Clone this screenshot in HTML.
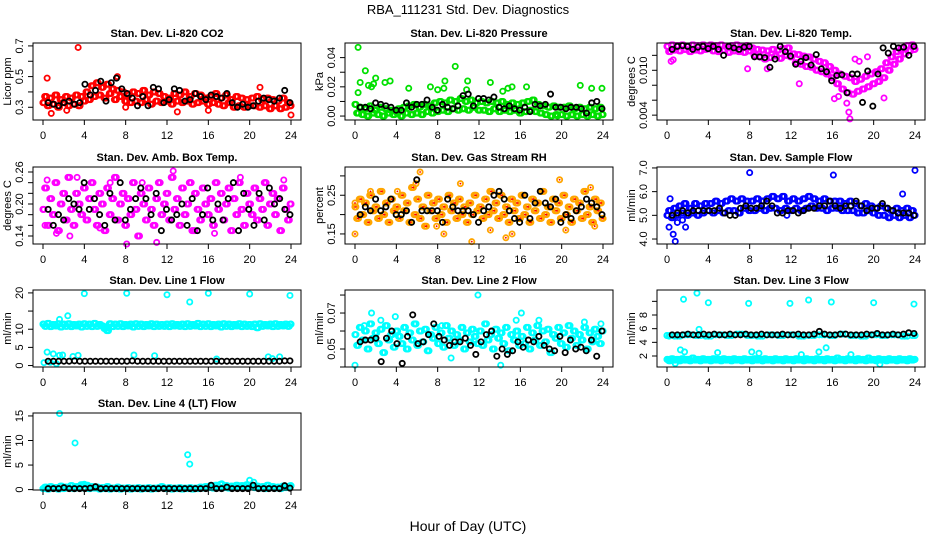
<!DOCTYPE html>
<html><head><meta charset="utf-8"><style>
html,body{margin:0;padding:0;background:#fff;}
svg{display:block;font-family:"Liberation Sans",Arial,sans-serif;}
</style></head><body>
<svg id="chart" width="936" height="540" viewBox="0 0 936 540" xmlns="http://www.w3.org/2000/svg">
<text x="468" y="14" text-anchor="middle" font-size="13">RBA_111231  Std. Dev. Diagnostics</text>
<text x="468" y="531" text-anchor="middle" font-size="14">Hour of Day (UTC)</text>
</svg>
<script>
const xTicks=[0,4,8,12,16,20,24];
const co2Main=[0.33,0.37,0.31,0.36,0.32,0.38,0.30,0.35,0.33,0.37,0.31,0.36,0.32,0.38,0.31,0.37,0.34,0.40,0.35,0.44,0.37,0.46,0.38,0.43,0.36,0.45,0.39,0.42,0.35,0.41,0.37,0.40,0.34,0.38,0.33,0.40,0.34,0.39,0.33,0.41,0.35,0.38,0.32,0.40,0.34,0.39,0.33,0.37,0.34,0.36,0.32,0.39,0.34,0.38,0.33,0.40,0.34,0.37,0.32,0.39,0.33,0.38,0.34,0.36,0.32,0.37,0.33,0.39,0.32,0.36,0.31,0.38,0.33,0.35,0.30,0.37,0.31,0.36,0.30,0.35,0.31,0.36,0.31,0.37,0.30,0.35,0.31,0.36,0.29,0.35,0.31,0.34,0.29,0.36,0.30,0.33,0.31];
const co2Out=[[0.4,0.49],[0.8,0.26],[3.4,0.69],[7.2,0.5],[13,0.27],[16,0.28],[21,0.43],[24,0.25],[8,0.3],[2.3,0.28]];
const co2Black=[0.33,0.32,0.31,0.33,0.34,0.32,0.33,0.45,0.38,0.41,0.47,0.34,0.46,0.49,0.42,0.39,0.36,0.31,0.37,0.31,0.43,0.42,0.33,0.35,0.42,0.41,0.34,0.35,0.39,0.37,0.35,0.38,0.37,0.36,0.39,0.33,0.30,0.32,0.30,0.31,0.34,0.36,0.35,0.34,0.36,0.41,0.33];
const presMain=[0.008,0.002,0.006,0.001,0.005,0.000,0.007,0.002,0.004,0.001,0.006,0.000,0.005,0.002,0.004,0.001,0.003,0.005,0.000,0.006,0.002,0.007,0.001,0.008,0.002,0.006,0.001,0.008,0.003,0.007,0.002,0.009,0.003,0.010,0.004,0.009,0.003,0.011,0.005,0.010,0.004,0.012,0.005,0.010,0.004,0.011,0.006,0.009,0.004,0.010,0.004,0.009,0.003,0.010,0.005,0.009,0.003,0.010,0.004,0.008,0.003,0.009,0.004,0.008,0.002,0.009,0.003,0.010,0.004,0.011,0.003,0.008,0.002,0.007,0.001,0.006,0.000,0.007,0.001,0.006,0.001,0.006,0.000,0.007,0.001,0.005,0.000,0.006,0.001,0.005,0.000,0.006,0.001,0.005,0.000,0.006,0.001];
const presOut=[[0.3,0.047],[0.3,0.016],[0.5,0.023],[1,0.031],[1.3,0.021],[1.6,0.02],[1.8,0.022],[2,0.026],[2.9,0.023],[3.4,0.024],[5.2,0.019],[7.3,0.02],[8,0.018],[8.6,0.019],[8.7,0.024],[9.7,0.034],[10.8,0.018],[10.9,0.024],[13.1,0.023],[14.3,0.017],[14.8,0.019],[15.2,0.02],[16.6,0.02],[21.8,0.021],[22.9,0.019],[23.9,0.019],[19.6,0.0]];
const presBlack=[0.006,0.006,0.005,0.009,0.008,0.007,0.006,0.004,0.004,0.009,0.006,0.008,0.008,0.011,0.006,0.004,0.008,0.006,0.005,0.007,0.014,0.015,0.007,0.012,0.012,0.011,0.013,0.006,0.005,0.007,0.005,0.004,0.006,0.003,0.008,0.007,0.008,0.015,0.006,0.006,0.005,0.006,0.006,0.005,0.002,0.009,0.010,0.005];
const tempMain=[0.0132,0.0125,0.0134,0.0127,0.0133,0.0126,0.0134,0.0128,0.0132,0.0125,0.0134,0.0127,0.0133,0.0126,0.0134,0.0128,0.0132,0.0134,0.0126,0.0133,0.0125,0.0134,0.0127,0.0132,0.0124,0.0133,0.0126,0.0134,0.0125,0.0132,0.0124,0.0133,0.0126,0.0130,0.0120,0.0128,0.0118,0.0127,0.0115,0.0126,0.0117,0.0128,0.0119,0.0127,0.0116,0.0129,0.0120,0.0130,0.0118,0.0122,0.0110,0.0121,0.0108,0.0119,0.0105,0.0118,0.0104,0.0115,0.0100,0.0112,0.0098,0.0110,0.0095,0.0105,0.0090,0.0100,0.0082,0.0095,0.0075,0.0092,0.0070,0.0090,0.0068,0.0085,0.0072,0.0088,0.0075,0.0092,0.0078,0.0095,0.0082,0.0098,0.0085,0.0102,0.0090,0.0110,0.0100,0.0118,0.0108,0.0125,0.0115,0.0130,0.0122,0.0133,0.0126,0.0134,0.0128];
const tempOut=[[0.4,0.0112],[0.6,0.0114],[7.8,0.0102],[9.7,0.0102],[12.8,0.0082],[16.2,0.0062],[17.4,0.0056],[17.7,0.0035],[17.6,0.0044],[18.2,0.0115],[19.4,0.0118],[18.6,0.0112],[21,0.0063],[16.6,0.0065]];
const tempBlack=[0.0128,0.0132,0.0133,0.0132,0.0128,0.0131,0.0132,0.0129,0.0132,0.0128,0.0120,0.0132,0.0130,0.0128,0.0131,0.0132,0.0118,0.0118,0.0117,0.0104,0.0115,0.0132,0.0125,0.0119,0.0108,0.0112,0.0117,0.0107,0.0121,0.0102,0.0098,0.0086,0.0093,0.0094,0.0070,0.0095,0.0095,0.0057,0.0099,0.0052,0.0095,0.0130,0.0123,0.0132,0.0130,0.0131,0.0120,0.0132];
const ambMain=[0.19,0.23,0.16,0.21,0.18,0.24,0.15,0.20,0.22,0.17,0.25,0.19,0.16,0.22,0.20,0.18,0.23,0.17,0.21,0.24,0.19,0.16,0.22,0.20,0.15,0.23,0.18,0.21,0.25,0.17,0.20,0.22,0.16,0.21,0.18,0.24,0.19,0.14,0.22,0.20,0.17,0.23,0.19,0.16,0.21,0.24,0.18,0.20,0.22,0.17,0.25,0.19,0.21,0.16,0.23,0.18,0.20,0.24,0.15,0.22,0.19,0.17,0.23,0.20,0.18,0.21,0.16,0.24,0.19,0.22,0.17,0.20,0.23,0.15,0.21,0.18,0.24,0.19,0.16,0.22,0.20,0.18,0.23,0.17,0.21,0.19,0.24,0.16,0.20,0.22,0.18,0.21,0.15,0.23,0.19,0.17,0.20];
const ambOut=[[0.4,0.245],[1.3,0.145],[3.3,0.25],[5.5,0.155],[6.5,0.24],[8.1,0.125],[11,0.128],[12.6,0.262],[14.7,0.15],[19.1,0.25],[23.3,0.245],[16.6,0.145],[0.2,0.16],[2.6,0.14],[9.6,0.24]];
const ambBlack=[0.19,0.16,0.18,0.17,0.21,0.20,0.19,0.24,0.19,0.21,0.18,0.16,0.22,0.17,0.24,0.17,0.19,0.21,0.23,0.21,0.18,0.22,0.15,0.19,0.17,0.18,0.20,0.16,0.21,0.15,0.18,0.23,0.17,0.20,0.17,0.21,0.24,0.15,0.22,0.19,0.16,0.22,0.17,0.23,0.20,0.21,0.19,0.18];
const rhMain=[0.22,0.19,0.24,0.20,0.23,0.18,0.25,0.21,0.22,0.19,0.26,0.20,0.23,0.18,0.24,0.21,0.22,0.19,0.25,0.21,0.23,0.18,0.27,0.20,0.24,0.19,0.22,0.17,0.25,0.21,0.23,0.19,0.24,0.20,0.22,0.18,0.25,0.21,0.23,0.19,0.24,0.20,0.22,0.18,0.23,0.20,0.25,0.21,0.22,0.19,0.24,0.20,0.26,0.21,0.23,0.19,0.25,0.20,0.22,0.18,0.24,0.21,0.23,0.19,0.25,0.20,0.22,0.18,0.24,0.21,0.23,0.19,0.26,0.20,0.22,0.18,0.24,0.21,0.23,0.19,0.25,0.20,0.22,0.18,0.24,0.21,0.23,0.19,0.26,0.20,0.22,0.18,0.24,0.21,0.23,0.19];
const rhOut=[[0,0.15],[0,0.23],[1.5,0.26],[4.1,0.26],[6.3,0.31],[5.9,0.28],[8.6,0.15],[10.2,0.28],[11.3,0.13],[13.1,0.16],[15.2,0.15],[14.6,0.14],[19.8,0.29],[20.4,0.16],[22.8,0.27],[23.2,0.17],[7.9,0.17]];
const rhBlack=[0.20,0.22,0.21,0.24,0.21,0.22,0.24,0.20,0.20,0.21,0.18,0.29,0.21,0.21,0.21,0.21,0.18,0.24,0.22,0.21,0.21,0.21,0.20,0.18,0.21,0.22,0.25,0.26,0.24,0.21,0.19,0.18,0.25,0.19,0.23,0.26,0.23,0.22,0.24,0.18,0.20,0.19,0.21,0.22,0.24,0.23,0.22,0.20];
const sfMain=[5.0,5.2,4.9,5.3,5.0,5.4,5.1,5.5,5.0,5.3,5.1,5.5,5.0,5.4,5.1,5.5,5.2,5.5,5.1,5.6,5.2,5.5,5.1,5.6,5.2,5.7,5.2,5.6,5.1,5.7,5.3,5.6,5.2,5.6,5.2,5.7,5.3,5.6,5.2,5.7,5.3,5.8,5.3,5.7,5.2,5.8,5.3,5.6,5.2,5.7,5.3,5.6,5.2,5.7,5.3,5.8,5.4,5.7,5.3,5.6,5.3,5.7,5.2,5.6,5.3,5.6,5.3,5.6,5.2,5.5,5.2,5.6,5.2,5.5,5.1,5.4,5.1,5.5,5.2,5.4,5.1,5.3,5.0,5.4,5.0,5.3,4.9,5.2,5.0,5.3,4.9,5.2,5.0,5.3,4.9,5.2,5.0];
const sfOut=[[0.2,4.5],[0.3,5.7],[0.6,4.2],[0.8,3.9],[1,4.7],[1.5,4.8],[1.8,4.5],[8,6.8],[11.6,5.0],[16.1,6.7],[22.8,5.9],[24,6.9]];
const sfBlack=[5.0,5.1,5.2,5.1,5.2,5.2,5.2,5.2,5.2,5.3,5.1,5.0,5.0,5.3,5.4,5.3,5.3,5.4,5.6,5.4,5.1,5.1,5.2,5.2,5.1,5.2,5.3,5.3,5.4,5.4,5.6,5.4,5.3,5.4,5.4,5.6,5.4,5.2,5.3,5.3,5.5,5.3,5.2,5.1,5.1,5.1,5.0];
const l1Main=[11.4,10.8,11.6,10.7,11.3,10.9,11.5,10.6,11.4,10.8,11.5,10.7,11.3,10.9,11.4,10.6,11.5,10.8,11.4,10.7,11.6,10.8,11.3,10.9,10.2,9.6,11.5,10.7,11.4,10.8,11.5,10.7,11.3,10.9,11.4,10.6,11.5,10.8,11.4,10.7,11.3,10.9,11.5,10.7,11.4,10.8,11.3,10.8,11.4,10.7,11.5,10.9,11.3,10.8,11.4,10.7,11.5,10.8,11.3,10.9,11.6,10.7,11.4,10.8,11.5,10.7,11.3,10.9,11.4,10.6,11.5,10.8,11.4,10.7,11.3,10.9,11.5,10.7,11.4,10.8,11.3,10.7,11.4,10.4,11.5,10.8,11.3,10.9,11.4,10.7,11.5,10.8,11.3,10.9,11.4,10.8,11.4];
const l1Out=[[0.1,0.8],[0.4,3.7],[1,3.2],[1.6,12.7],[1.6,2.8],[1.9,2.9],[2.4,13.7],[2.9,2.5],[3.4,2.8],[4,19.8],[8.1,19.9],[8.8,2.9],[10.8,2.7],[12,19.5],[14.2,17.5],[16,19.9],[20,19.7],[23.9,19.3],[21.8,2.4],[22.9,2.4],[16.8,1.8],[22.2,1.9],[1.3,0.5],[0.7,0.9]];
const l1Black=[1.2,1.2,1.2,1.2,1.2,1.3,1.2,1.2,1.2,1.2,1.2,1.2,1.2,1.2,1.2,1.2,1.3,1.2,1.2,1.2,1.2,1.2,1.2,1.2,1.2,1.2,1.2,1.2,1.2,1.2,1.2,1.2,1.2,1.2,1.2,1.2,1.2,1.2,1.2,1.2,1.2,1.2,1.2,1.2,1.2,1.3,1.3];
const l2Main=[0.058,0.052,0.062,0.055,0.060,0.050,0.064,0.056,0.059,0.053,0.061,0.048,0.063,0.055,0.058,0.051,0.060,0.057,0.053,0.062,0.050,0.059,0.055,0.064,0.052,0.060,0.054,0.061,0.049,0.058,0.056,0.062,0.053,0.059,0.051,0.063,0.056,0.060,0.052,0.058,0.055,0.062,0.050,0.059,0.054,0.061,0.057,0.053,0.060,0.052,0.064,0.055,0.058,0.050,0.061,0.056,0.059,0.053,0.062,0.049,0.058,0.055,0.060,0.052,0.057,0.053,0.062,0.050,0.059,0.055,0.063,0.052,0.060,0.054,0.061,0.048,0.058,0.056,0.062,0.053,0.059,0.051,0.063,0.056,0.060,0.052,0.058,0.055,0.062,0.050,0.059,0.054,0.061,0.057,0.053,0.060];
const l2Out=[[0,0.041],[0.9,0.063],[1.6,0.07],[3.9,0.068],[5.9,0.064],[8.4,0.063],[9.3,0.045],[11.9,0.08],[14.1,0.041],[16.1,0.07],[17.8,0.066],[22.2,0.065],[23.8,0.064],[2.5,0.066],[15.6,0.066]];
const l2Black=[0.054,0.055,0.055,0.056,0.043,0.056,0.060,0.053,0.042,0.057,0.069,0.053,0.054,0.058,0.064,0.057,0.055,0.052,0.054,0.054,0.056,0.052,0.047,0.054,0.058,0.060,0.046,0.050,0.047,0.049,0.054,0.051,0.055,0.054,0.057,0.052,0.050,0.049,0.057,0.048,0.055,0.050,0.051,0.049,0.055,0.046,0.060];
const l3Main=[1.5,1.3,1.6,1.4,1.5,1.3,1.6,1.4,1.5,1.3,1.7,1.4,1.5,1.3,1.6,1.4,1.5,1.3,1.6,1.4,1.5,1.3,1.6,1.4,1.5,1.3,1.6,1.4,1.5,1.3,1.6,1.4,1.5,1.3,1.6,1.4,1.5,1.3,1.6,1.4,1.5,1.3,1.6,1.4,1.5,1.3,1.6,1.4,1.5,1.3,1.6,1.4,1.5,1.3,1.6,1.4,1.5,1.3,1.6,1.4,1.5,1.3,1.6,1.4,1.5,1.3,1.7,1.4,1.5,1.3,1.6,1.4,1.5,1.3,1.6,1.4,1.5,1.3,1.7,1.4,1.5,1.3,1.6,1.4,1.5,1.3,1.6,1.4,1.5,1.3,1.6,1.4,1.5,1.3,1.6,1.4,1.5];
const l3Upper=[5.0,4.9,5.1,5.0,4.9,5.1,5.0,5.2,5.0,4.9,5.1,5.0,5.1,4.9,5.0,5.1,5.0,5.2,5.0,4.9,5.1,5.0,5.1,4.9,5.0];
const l3Out=[[0.2,4.9],[1.3,2.9],[1.6,10.3],[1.7,2.6],[2.9,11.2],[3.1,5.9],[4,9.8],[4.9,2.5],[7.9,9.7],[8.2,2.6],[8.9,2.4],[11.9,9.7],[13,2.2],[13.7,10.2],[14.7,2.6],[15.4,3.2],[15.9,9.9],[17.8,2.2],[20,9.8],[23.9,9.6],[0.8,0.9],[20.6,0.8]];
const l3Black=[5.1,5.1,5.1,5.2,5.1,5.1,5.2,5.1,5.2,5.1,5.1,5.2,5.1,5.1,5.2,5.1,5.1,5.2,5.1,5.1,5.1,5.2,5.1,5.1,5.2,5.1,5.1,5.2,5.6,5.2,5.1,5.1,5.2,5.2,5.1,5.1,5.1,5.2,5.1,5.3,5.1,5.1,5.2,5.1,5.2,5.4,5.3];
const l4Main=[0.2,0.5,0.1,0.6,0.3,0.4,0.1,0.7,0.2,0.5,0.3,0.8,0.2,0.6,0.4,1.0,0.3,0.9,0.2,0.6,0.3,0.5,0.1,0.4,0.2,0.6,0.1,0.3,0.2,0.5,0.1,0.3,0.2,0.4,0.1,0.3,0.2,0.4,0.1,0.3,0.2,0.4,0.1,0.3,0.2,0.4,0.6,0.3,0.2,0.4,0.1,0.3,0.2,0.4,0.1,0.3,0.2,0.4,0.1,0.3,0.2,0.5,0.3,0.6,0.4,0.8,0.3,0.9,0.5,1.1,0.4,0.8,0.3,0.7,0.5,0.9,0.4,0.8,0.6,1.0,0.5,0.8,0.4,0.7,0.3,0.6,0.2,0.9,0.4,0.6,0.3,0.5,0.2,0.7,0.4,0.6,0.8];
const l4Out=[[1.6,15.5],[3.1,9.5],[14,7.1],[14.2,5.2],[20,1.9],[20.4,1.5],[17.3,1.2],[4,1.1]];
const l4Black=[0.2,0.2,0.2,0.4,0.2,0.2,0.2,0.2,0.3,0.6,0.2,0.2,0.2,0.2,0.2,0.2,0.2,0.2,0.2,0.2,0.2,0.2,0.2,0.2,0.2,0.2,0.2,0.2,0.2,0.2,0.2,0.9,0.2,0.2,0.5,0.2,0.2,0.2,0.2,0.9,0.2,0.2,0.2,0.2,0.2,0.8,0.3];

const panels=[
 {name:'co2',title:'Stan. Dev. Li-820 CO2',ylab:'Licor ppm',col:0,row:0,ymin:0.217,ymax:0.719,ticks:[0.3,0.4,0.5,0.6,0.7],labels:['0.3','','0.5','','0.7'],color:'#ff0000',main:co2Main,out:co2Out,black:co2Black},
 {name:'pressure',title:'Stan. Dev. Li-820 Pressure',ylab:'kPa',col:1,row:0,ymin:-0.0027,ymax:0.05,ticks:[0,0.01,0.02,0.03,0.04],labels:['0.00','','0.02','','0.04'],color:'#00e000',main:presMain,out:presOut,black:presBlack},
 {name:'li820-temp',title:'Stan. Dev. Li-820 Temp.',ylab:'degrees C',col:2,row:0,ymin:0.00335,ymax:0.01365,ticks:[0.004,0.006,0.008,0.010,0.012],labels:['0.004','','','0.010',''],color:'#ff00ff',main:tempMain,out:tempOut,black:tempBlack},
 {name:'amb-box-temp',title:'Stan. Dev. Amb. Box Temp.',ylab:'degrees C',col:0,row:1,ymin:0.125,ymax:0.2694,ticks:[0.14,0.16,0.18,0.20,0.22,0.24,0.26],labels:['0.14','','','0.20','','','0.26'],color:'#ff00ff',main:ambMain,out:ambOut,black:ambBlack},
 {name:'gas-stream-rh',title:'Stan. Dev. Gas Stream RH',ylab:'percent',col:1,row:1,ymin:0.124,ymax:0.323,ticks:[0.15,0.2,0.25,0.3],labels:['0.15','','0.25',''],color:'#ffa500',main:rhMain,out:rhOut,black:rhBlack,dot:'#ff0000'},
 {name:'sample-flow',title:'Stan. Dev. Sample Flow',ylab:'ml/min',col:2,row:1,ymin:3.79,ymax:7.04,ticks:[4,5,6,7],labels:['4.0','5.0','6.0','7.0'],color:'#0000ff',main:sfMain,out:sfOut,black:sfBlack},
 {name:'line1-flow',title:'Stan. Dev. Line 1 Flow',ylab:'ml/min',col:0,row:2,ymin:-0.4,ymax:20.8,ticks:[0,5,10,15,20],labels:['0','5','10','','20'],color:'#00ffff',main:l1Main,out:l1Out,black:l1Black},
 {name:'line2-flow',title:'Stan. Dev. Line 2 Flow',ylab:'ml/min',col:1,row:2,ymin:0.04,ymax:0.0828,ticks:[0.04,0.05,0.06,0.07,0.08],labels:['','0.05','','0.07',''],color:'#00ffff',main:l2Main,out:l2Out,black:l2Black},
 {name:'line3-flow',title:'Stan. Dev. Line 3 Flow',ylab:'ml/min',col:2,row:2,ymin:0.39,ymax:11.66,ticks:[2,4,6,8,10],labels:['2','4','6','8',''],color:'#00ffff',main:l3Main,out:l3Out,black:l3Black,extra:l3Upper},
 {name:'line4-flow',title:'Stan. Dev. Line 4 (LT) Flow',ylab:'ml/min',col:0,row:3,ymin:-0.08,ymax:15.6,ticks:[0,5,10,15],labels:['0','5','10','15'],color:'#00ffff',main:l4Main,out:l4Out,black:l4Black}
];
const NS='http://www.w3.org/2000/svg';
const svg=document.getElementById('chart');
const tops=[43,167,290,413],H=77;
const spread=[-0.09,0,0.09];
function mk(tag,attrs,parent){const e=document.createElementNS(NS,tag);for(const k in attrs)e.setAttribute(k,attrs[k]);parent.appendChild(e);return e;}
panels.forEach(p=>{
 const L=p.col*312+33,R=L+268,T=tops[p.row],B=T+H;
 const g=mk('g',{},svg);
 
 
 const xs=h=>L+10+h*(248/24);
 const ys=v=>B-(v-p.ymin)/(p.ymax-p.ymin)*H;
 const t=mk('text',{x:(L+R)/2,y:T-6,'text-anchor':'middle','font-size':'11','font-weight':'bold'},g);
 t.textContent=p.title;
 
 
 const yl=mk('text',{transform:`translate(${p.col*312+11},${(T+B)/2}) rotate(-90)`,'text-anchor':'middle','font-size':'11'},g);
 yl.textContent=p.ylab;
 
 
 const pg=mk('g',{},g);
 
 
 function pt(h,v,c,dot){const cy=ys(v);if(cy<T-1||cy>B+1)return;const c1=mk('circle',{cx:xs(h),cy:cy,r:2.6,fill:'none',stroke:c,'stroke-width':1.8},pg);
  
  
  if(dot){const d=mk('circle',{cx:xs(h),cy:cy,r:0.9,fill:dot},pg);
  
  }}
 p.main.forEach((v,i)=>spread.forEach(o=>pt(Math.min(24,Math.max(0,i*24/(p.main.length-1)+o)),v,p.color,p.dot)));
 if(p.extra)p.extra.forEach((v,i)=>spread.forEach(o=>pt(Math.min(24,Math.max(0,i*24/(p.extra.length-1)+o*3)),v,p.color,p.dot)));
 p.out.forEach(o=>pt(o[0],o[1],p.color,p.dot));
 p.black.forEach((v,i)=>pt(0.5+i*23.4/(p.black.length-1),v,'#000',null));
 const box=mk('rect',{x:L,y:T,width:R-L,height:H,fill:'none',stroke:'#000','stroke-width':1},g);
 
 
 const xa=mk('g',{},g);
 
 
 mk('line',{x1:xs(0),x2:xs(24),y1:B,y2:B,stroke:'#000'},xa);
 xTicks.forEach(h=>{mk('line',{x1:xs(h),x2:xs(h),y1:B,y2:B+5,stroke:'#000'},xa);
  const tl=mk('text',{x:xs(h),y:B+19,'text-anchor':'middle','font-size':'11'},xa);tl.textContent=h;
  
  });
 const ya=mk('g',{},g);
 
 
 mk('line',{x1:L,x2:L,y1:ys(p.ticks[0]),y2:ys(p.ticks[p.ticks.length-1]),stroke:'#000'},ya);
 p.ticks.forEach((v,i)=>{const y=ys(v);mk('line',{x1:L-5,x2:L,y1:y,y2:y,stroke:'#000'},ya);
  if(p.labels[i]){const tl=mk('text',{transform:`translate(${L-10},${y}) rotate(-90)`,'text-anchor':'middle','font-size':'11'},ya);tl.textContent=p.labels[i];
  
  }});
});
</script>
</body></html>
